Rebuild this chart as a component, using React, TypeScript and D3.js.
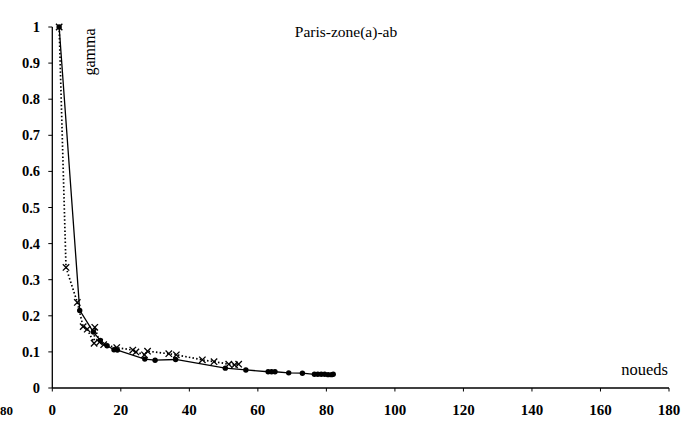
import React from "react";
import * as d3 from "d3";

const xTicks = [0, 20, 40, 60, 80, 100, 120, 140, 160, 180];
const yTicks = [0, 0.1, 0.2, 0.3, 0.4, 0.5, 0.6, 0.7, 0.8, 0.9, 1];
const yTickLabels = ["0", "0.1", "0.2", "0.3", "0.4", "0.5", "0.6", "0.7", "0.8", "0.9", "1"];

const solidX = [2, 8, 12, 14, 16, 18, 19, 27, 30, 36, 50.5, 56.5, 63, 64, 65, 69, 73, 76.5, 77.5, 78.5, 79.5, 80.5, 81.5, 82];
const solidY = [1, 0.215, 0.155, 0.132, 0.117, 0.106, 0.105, 0.08, 0.077, 0.079, 0.055, 0.05, 0.045, 0.045, 0.045, 0.042, 0.041, 0.038, 0.038, 0.038, 0.038, 0.037, 0.037, 0.038];

const crossX = [2, 4, 7.3, 9, 10.2, 12.2, 12.4, 13.8, 15, 18.8, 23.5, 24.4, 26.9, 27.8, 34, 36.2, 43.8, 47.2, 51.5, 53.2, 54.4];
const crossY = [1, 0.334, 0.237, 0.17, 0.163, 0.124, 0.168, 0.127, 0.12, 0.112, 0.105, 0.1, 0.092, 0.102, 0.095, 0.092, 0.078, 0.073, 0.066, 0.064, 0.066];

const title = "Paris-zone(a)-ab";
const yName = "gamma";
const xName = "noueds";

export default function App() {
  const W = 684, H = 428;
  const x = d3.scaleLinear().domain([0, 180]).range([52.3, 669]);
  const y = d3.scaleLinear().domain([0, 1]).range([388, 27]);
  const solid = solidX.map((v, i) => [v, solidY[i]] as [number, number]);
  const cross = crossX.map((v, i) => [v, crossY[i]] as [number, number]);
  const line = d3.line<[number, number]>().x(d => x(d[0])).y(d => y(d[1]));
  const ff = { fontFamily: "\"Liberation Serif\", \"Times New Roman\", serif" };
  return (
    <svg width={W} height={H} style={{ position: "absolute", left: 0, top: 0, background: "#fff" }}>
      <rect x={0} y={0} width={W} height={H} fill="#fff" />
      {/* axes */}
      <line x1={x(0)} x2={x(0)} y1={y(1)} y2={y(0)} stroke="#000" strokeWidth={1.3} />
      <line x1={x(0)} x2={x(180)} y1={y(0)} y2={y(0)} stroke="#000" strokeWidth={1.3} />
      {yTicks.map((t, i) => (
        <g key={"y" + i}>
          <line x1={x(0) - 4} x2={x(0)} y1={y(t)} y2={y(t)} stroke="#000" strokeWidth={1} />
          <text x={40} y={y(t) + 5} textAnchor="end" fontSize={14.5} fontWeight="bold" style={ff}>{yTickLabels[i]}</text>
        </g>
      ))}
      {xTicks.map((t, i) => (
        <g key={"x" + i}>
          <line x1={x(t)} x2={x(t)} y1={y(0)} y2={y(0) + 3.5} stroke="#000" strokeWidth={1} />
          <text x={x(t)} y={415} textAnchor="middle" fontSize={15} fontWeight="bold" style={ff}>{String(t)}</text>
        </g>
      ))}
      <text x={0} y={415} fontSize={13} fontWeight="bold" style={ff}>80</text>
      {/* series */}
      <path d={line(solid) || ""} fill="none" stroke="#000" strokeWidth={1.3} />
      <path d={line(cross) || ""} fill="none" stroke="#000" strokeWidth={1.7} strokeDasharray="1.5,2.2" />
      {solid.map((d, i) => (
        <circle key={"s" + i} cx={x(d[0])} cy={y(d[1])} r={2.7} fill="#000" />
      ))}
      {cross.map((d, i) => {
        const cx = x(d[0]), cy = y(d[1]), s = 3.2;
        return (
          <g key={"c" + i} stroke="#000" strokeWidth={1.3}>
            <line x1={cx - s} x2={cx + s} y1={cy - s} y2={cy + s} />
            <line x1={cx - s} x2={cx + s} y1={cy + s} y2={cy - s} />
          </g>
        );
      })}
      {/* labels */}
      <text x={346} y={37} textAnchor="middle" fontSize={15.5} style={ff}>{title}</text>
      <text transform={`translate(95,52) rotate(-90)`} textAnchor="middle" fontSize={16} style={ff}>{yName}</text>
      <text x={668} y={375} textAnchor="end" fontSize={16.5} style={ff}>{xName}</text>
    </svg>
  );
}
